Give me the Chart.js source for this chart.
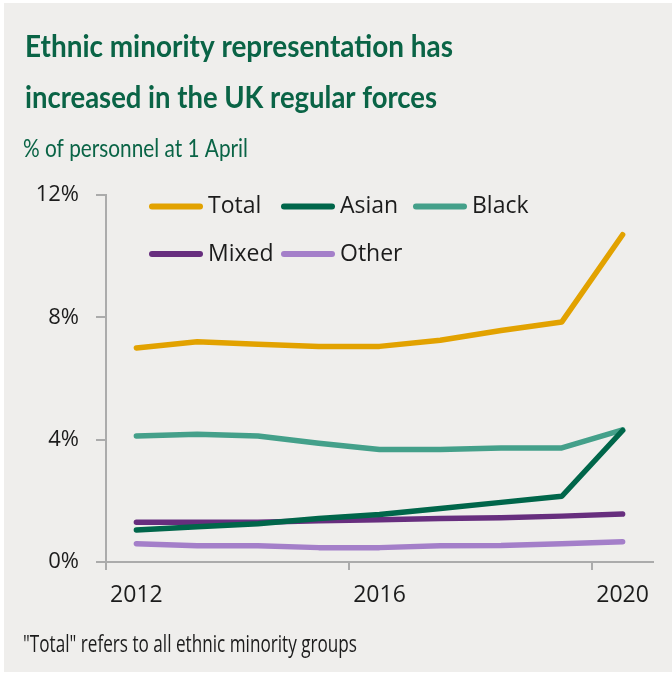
<!DOCTYPE html>
<html>
<head>
<meta charset="utf-8">
<title>Ethnic minority representation, UK regular forces</title>
<script src="https://cdn.jsdelivr.net/npm/chart.js@4.4.1/dist/chart.umd.min.js"></script>
<style>
  html, body { margin: 0; padding: 0; background: #fff; }
  #panel { position: absolute; left: 4px; top: 3px; width: 668px; height: 669px; background: #efeeec; }
  #chart { position: absolute; left: 0; top: 0; }
</style>
</head>
<body>
<div id="panel"></div>
<canvas id="chart" width="672" height="675"></canvas>
<script>
// share of personnel (%) at 1 April each year
const years = ['2012', '2013', '2014', '2015', '2016', '2017', '2018', '2019', '2020'];
const total = [7.0, 7.2, 7.12, 7.05, 7.05, 7.25, 7.57, 7.85, 10.7];
const asian = [1.05, 1.15, 1.25, 1.42, 1.55, 1.75, 1.95, 2.15, 4.3];
const black = [4.12, 4.18, 4.12, 3.88, 3.68, 3.68, 3.73, 3.73, 4.32];
const mixed = [1.3, 1.3, 1.3, 1.35, 1.38, 1.42, 1.45, 1.5, 1.57];
const other = [0.6, 0.53, 0.53, 0.47, 0.47, 0.53, 0.54, 0.6, 0.66];
const yTicks = [0, 4, 8, 12];

const titleLines = ['Ethnic minority representation has', 'increased in the UK regular forces'];
const subtitle = '% of personnel at 1 April';
const footnote = '"Total" refers to all ethnic minority groups';

const GREEN = '#0a6446';
const AXIS = '#ababab';
const INK = '#1c1c1c';

// title, subtitle and note drawn straight onto the canvas
const headings = {
  id: 'headings',
  beforeDraw(chart) {
    const ctx = chart.ctx;
    ctx.save();
    ctx.textBaseline = 'alphabetic';
    ctx.textAlign = 'left';
    ctx.fillStyle = GREEN;
    ctx.font = 'bold 31px Lato';
    ctx.fillText(titleLines[0], 25, 57, 428);
    ctx.fillText(titleLines[1], 25, 108, 412);
    ctx.font = '25px Lato';
    ctx.fillText(subtitle, 23, 157, 225);
    ctx.fillStyle = INK;
    ctx.font = '24px "Open Sans"';
    ctx.fillText(footnote, 23, 652, 334);
    ctx.restore();
  }
};

// three-column legend inside the plot, top left
const lineLegend = {
  id: 'lineLegend',
  afterDatasetsDraw(chart) {
    const { ctx, chartArea } = chart;
    ctx.save();
    ctx.font = '23px "Open Sans"';
    ctx.textBaseline = 'middle';
    ctx.textAlign = 'left';
    chart.data.datasets.forEach((ds, i) => {
      const col = i % 3;
      const row = Math.floor(i / 3);
      const x = chartArea.left + 43 + col * 132;
      const y = chartArea.top + 11.5 + row * 47.5;
      ctx.strokeStyle = ds.borderColor;
      ctx.lineWidth = 6;
      ctx.lineCap = 'round';
      ctx.beginPath();
      ctx.moveTo(x + 3, y);
      ctx.lineTo(x + 51, y);
      ctx.stroke();
      ctx.fillStyle = INK;
      ctx.fillText(ds.label, x + 59, y);
    });
    ctx.restore();
  }
};

function series(label, data, color) {
  return { label, data, borderColor: color, backgroundColor: color, fill: false };
}

function draw() {
  new Chart(document.getElementById('chart'), {
    type: 'line',
    data: {
      labels: years,
      datasets: [
        series('Total', total, '#e2a200'),
        series('Asian', asian, '#00664a'),
        series('Black', black, '#44a08a'),
        series('Mixed', mixed, '#672e7e'),
        series('Other', other, '#a47fc9')
      ]
    },
    options: {
      responsive: false,
      animation: false,
      layout: { padding: { top: 195, right: 19, bottom: 0, left: 0 } },
      elements: {
        point: { radius: 0, hoverRadius: 0 },
        line: { borderWidth: 5.5, borderCapStyle: 'round', borderJoinStyle: 'round', tension: 0 }
      },
      plugins: { legend: { display: false }, tooltip: { enabled: false } },
      scales: {
        x: {
          type: 'category',
          offset: true,
          grid: {
            offset: true,
            drawOnChartArea: false,
            tickLength: 8,
            lineWidth: 2,
            color: (c) => [0, 4, 8].includes(c.index) ? AXIS : 'rgba(0,0,0,0)'
          },
          border: { color: AXIS, width: 2 },
          ticks: {
            autoSkip: false,
            maxRotation: 0,
            padding: 12,
            color: INK,
            font: { family: '"Open Sans"', size: 23 },
            callback: (v, i) => (i % 4 === 0 ? years[i] : '')
          },
          afterFit: (s) => { s.height = 113; }
        },
        y: {
          min: 0,
          max: 12,
          afterBuildTicks: (s) => { s.ticks = yTicks.map((v) => ({ value: v })); },
          grid: { drawOnChartArea: false, tickLength: 10, lineWidth: 2, color: AXIS },
          border: { color: AXIS, width: 2 },
          ticks: {
            padding: 17,
            color: INK,
            font: { family: '"Open Sans"', size: 22 },
            callback: (v) => v + '%'
          },
          afterFit: (s) => { s.width = 106; }
        }
      }
    },
    plugins: [headings, lineLegend]
  });
}

Promise.all([
  document.fonts.load('bold 31px Lato'),
  document.fonts.load('25px Lato'),
  document.fonts.load('23px "Open Sans"')
]).then(draw, draw);
</script>
</body>
</html>
